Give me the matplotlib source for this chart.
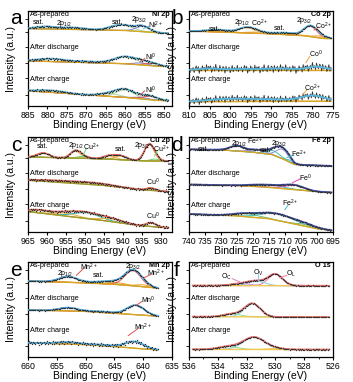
import numpy as np
import matplotlib
matplotlib.use("Agg")
import matplotlib.pyplot as plt

plt.rcParams['font.family'] = ['Liberation Sans', 'DejaVu Sans']
plt.rcParams['mathtext.default'] = 'regular'

# scatter of the raw counts around the fit (read roughly, relative units)
jitter = [0.4, -0.6, 0.9, -0.2, -0.8, 0.5, 0.1, -0.4, 0.7, -0.9, 0.3, 0.6,
          -0.5, -0.1, 0.8, -0.7, 0.2, -0.3, 1.0, -0.6, 0.4, -0.2, -0.9, 0.6,
          0.0, 0.5, -0.4, 0.9, -0.8, 0.3, -0.1, 0.7, -0.5, 0.2, -1.0, 0.6,
          -0.3, 0.8, 0.1, -0.7, 0.5, -0.2, 0.3, -0.6, 0.9, -0.4, 0.2]

stages = ["As-prepared", "After discharge", "After charge"]
stage_y = [0.96, 0.62, 0.28]

# background knots (eV, level) and peaks (centre eV, height, width eV, colour)
ni_bg = [[(885, 0.815), (860, 0.795), (853, 0.775), (849, 0.765)],
         [(885, 0.475), (860, 0.445), (852, 0.42), (849, 0.415)],
         [(885, 0.16), (860, 0.09), (852, 0.06), (849, 0.055)]]
ni_peaks = [[(880.5, 0.025, 2.5, '#a8d8a0'), (873.5, 0.02, 3, '#a8d8a0'),
             (861, 0.06, 2.8, '#9fd89a'), (855.5, 0.055, 1.8, '#7b7fe0')],
            [(879, 0.03, 3.5, '#a8d8a0'), (870, 0.012, 3, '#a8d8a0'),
             (860, 0.075, 3, '#9fd89a'), (856, 0.02, 1.8, '#7b7fe0'),
             (853, 0.025, 1.8, '#e05050')],
            [(879, 0.02, 3.5, '#a8d8a0'), (864, 0.03, 2.5, '#a8d8a0'),
             (860, 0.08, 2.3, '#9fd89a'), (856, 0.015, 2, '#7b7fe0'),
             (853.5, 0.035, 2, '#e05050')]]
ni_text = [("sat.", 882.2, 0.88), (r"2p$_{1/2}$", 875.8, 0.865), ("sat.", 862, 0.88),
           (r"2p$_{3/2}$", 856.4, 0.915), (r"Ni$^{2+}$", 852.3, 0.85),
           (r"Ni$^{0}$", 853.4, 0.51), (r"Ni$^{0}$", 853.4, 0.17)]
ni_lead = [(853.9, 0.84, 855.3, 0.815, '#5ab4dc'), (855.0, 0.50, 856.2, 0.465, '#e05050'),
           (855.0, 0.16, 856.2, 0.115, '#e05050')]

co_bg = [[(810, 0.79), (790, 0.76), (782, 0.74), (777, 0.71), (775, 0.71)],
         [(810, 0.375), (775, 0.375)],
         [(810, 0.045), (775, 0.05)]]
co_peaks = [[(803, 0.025, 2.5, '#f0c080'), (796, 0.055, 2, '#f0a040'),
             (793.5, 0.015, 2, '#f0c080'), (786.5, 0.02, 2.5, '#f0c080'),
             (780.5, 0.11, 1.6, '#e05050'), (778, 0.02, 1.5, '#f0a040')],
            [(805, 0.02, 3, '#f0c080'), (796, 0.015, 3, '#f0c080'),
             (788, 0.02, 3, '#f0c080'), (779, 0.04, 2.5, '#f0a040')],
            [(800, 0.03, 5, '#f0c080'), (790, 0.02, 4, '#f0c080'),
             (780, 0.06, 3, '#f0a040')]]
co_text = [("sat.", 803.7, 0.81), (r"2p$_{1/2}$", 797, 0.875), (r"Co$^{2+}$", 792.8, 0.865),
           ("sat.", 788.1, 0.82), (r"2p$_{3/2}$", 782, 0.895), (r"Co$^{2+}$", 777.2, 0.84),
           (r"Co$^{0}$", 779.3, 0.54), (r"Co$^{2+}$", 780, 0.19)]
co_lead = [(778.6, 0.83, 779.6, 0.80, '#e05050'), (780.6, 0.525, 781.6, 0.455, '#f0a040'),
           (781.3, 0.175, 782.3, 0.12, '#f0a040')]

cu_bg = [[(965, 0.79), (945, 0.77), (935, 0.75), (928, 0.745)],
         [(965, 0.545), (945, 0.49), (935, 0.445), (928, 0.425)],
         [(965, 0.215), (945, 0.12), (935, 0.065), (928, 0.045)]]
cu_peaks = [[(961, 0.045, 1.6, '#f0b040'), (952.5, 0.075, 1.3, '#f0b040'),
             (950.5, 0.02, 1.5, '#70d070'), (943.5, 0.035, 1.6, '#f0b040'),
             (940.5, 0.04, 1.6, '#f0b040'), (933, 0.17, 1.3, '#f0b040'),
             (931.5, 0.02, 1.2, '#70d070')],
            [(958, 0.015, 5, '#f0b040'), (948, 0.02, 5, '#f0b040'),
             (932.5, 0.025, 1.2, '#f0b040')],
            [(962, 0.03, 3, '#f0b040'), (955, 0.03, 3, '#f0b040'),
             (949.5, 0.06, 3.5, '#30b0b0'), (943, 0.03, 3, '#f0b040'),
             (932.5, 0.04, 1.3, '#f0b040')]]
cu_text = [("sat.", 961.3, 0.895), (r"2p$_{1/2}$", 952.4, 0.91), (r"Cu$^{2+}$", 948.2, 0.895),
           ("sat.", 940.5, 0.87), (r"2p$_{3/2}$", 934.8, 0.915), (r"Cu$^{2+}$", 929.6, 0.865),
           (r"Cu$^{0}$", 932, 0.52), (r"Cu$^{0}$", 932, 0.165)]
cu_lead = [(949.6, 0.88, 950.6, 0.80, '#70d070'), (930.9, 0.855, 931.6, 0.80, '#70d070')]

fe_bg = [[(740, 0.87), (730, 0.865), (720, 0.84), (714, 0.815), (710, 0.76),
          (707, 0.71), (700, 0.70), (695, 0.695)],
         [(740, 0.5), (725, 0.49), (715, 0.47), (705, 0.44), (700, 0.425), (695, 0.415)],
         [(740, 0.19), (725, 0.17), (715, 0.14), (705, 0.07), (700, 0.035), (695, 0.015)]]
fe_peaks = [[(725, 0.055, 2.2, '#8a90d8'), (718.5, 0.03, 2.5, '#8a90d8'),
             (713.5, 0.045, 2, '#40c0c0'), (710.8, 0.1, 1.8, '#8a90d8'),
             (708.5, 0.02, 1.2, '#40c0c0')],
            [(720, 0.01, 3, '#70c070'), (714, 0.025, 4, '#40c0c0'),
             (707, 0.045, 3, '#e040c0')],
            [(722, 0.03, 4, '#70c070'), (712, 0.07, 5, '#40c0c0'),
             (703, 0.02, 3, '#70c070')]]
fe_text = [("sat.", 735.6, 0.865), (r"2p$_{1/2}$", 724.3, 0.935), (r"Fe$^{2+}$", 719.4, 0.95),
           ("sat.", 716.2, 0.855), (r"2p$_{3/2}$", 711.8, 0.935), (r"Fe$^{2+}$", 705.5, 0.82),
           (r"Fe$^{0}$", 703.5, 0.57), (r"Fe$^{2+}$", 708.5, 0.30)]
fe_lead = [(707.2, 0.81, 709.4, 0.785, '#40c0c0'), (705.2, 0.56, 707.6, 0.52, '#e040c0'),
           (709.0, 0.285, 710.0, 0.235, '#40c0c0')]

mn_bg = [[(660, 0.80), (650, 0.78), (645, 0.765), (640, 0.74), (637.5, 0.725)],
         [(660, 0.495), (650, 0.48), (645, 0.46), (640, 0.44), (637.5, 0.43)],
         [(660, 0.15), (650, 0.13), (645, 0.11), (640, 0.085), (637.5, 0.075)]]
mn_peaks = [[(653, 0.06, 1.6, '#e05050'), (647, 0.02, 2, '#a0d890'),
             (644.5, 0.02, 1.5, '#f0a030'), (641.8, 0.16, 1.4, '#e05050'),
             (640, 0.02, 1.2, '#f0a030')],
            [(653, 0.035, 1.6, '#e05050'), (647, 0.01, 2, '#a0d890'),
             (641.3, 0.1, 1.5, '#e05050')],
            [(653, 0.02, 2, '#f0a030'), (647, 0.01, 2, '#a0d890'),
             (641.5, 0.07, 1.6, '#e05050')]]
mn_text = [(r"2p$_{1/2}$", 653.6, 0.88), (r"Mn$^{2+}$", 649.4, 0.945), ("sat.", 647.8, 0.86),
           (r"2p$_{3/2}$", 641.8, 0.95), (r"Mn$^{2+}$", 637.8, 0.88),
           (r"Mn$^{0}$", 639.2, 0.60), (r"Mn$^{2+}$", 640, 0.31)]
mn_lead = [(650.4, 0.93, 651.6, 0.86, '#e05050'), (638.8, 0.865, 639.8, 0.835, '#e05050'),
           (640.2, 0.585, 641.2, 0.545, '#e05050'), (641.0, 0.295, 642.6, 0.225, '#e05050')]

o_bg = [[(536, 0.752), (526, 0.75)],
        [(536, 0.425), (526, 0.42)],
        [(536, 0.08), (526, 0.078)]]
o_peaks = [[(530, 0.12, 0.5, '#f07a9a'), (531.3, 0.045, 0.6, '#86c8e8'),
            (532.4, 0.02, 0.7, '#c890e0')],
           [(531.6, 0.14, 0.55, '#86c8e8'), (533, 0.03, 0.6, '#90d890')],
           [(531.5, 0.13, 0.75, '#86c8e8'), (533.3, 0.03, 0.7, '#90d890'),
            (530, 0.01, 0.6, '#f0c850')]]
o_text = [(r"O$_C$", 533.4, 0.84), (r"O$_V$", 531.2, 0.89), (r"O$_L$", 528.9, 0.87)]
o_lead = [(533.0, 0.825, 532.4, 0.785, '#e080c0'), (531.2, 0.87, 531.2, 0.805, '#86c8e8'),
          (529.2, 0.86, 529.7, 0.835, '#f07a9a')]

panels = [
    dict(letter="a", name="Ni 2p", xlim=(885, 848), ticks=range(850, 886, 5), minor=None,
         span=(849, 885), step=0.3, bg=ni_bg, peaks=ni_peaks, text=ni_text, lead=ni_lead,
         env='#5ab4dc', bgc='#d9a520', noise=[0.006, 0.01, 0.01], rough=False),
    dict(letter="b", name="Co 2p", xlim=(810, 775), ticks=range(775, 811, 5), minor=None,
         span=(775.5, 810), step=0.25, bg=co_bg, peaks=co_peaks, text=co_text, lead=co_lead,
         env='#58b8e0', bgc='#d9a520', noise=[0.005, 0.045, 0.04], rough=True),
    dict(letter="c", name="Cu 2p", xlim=(965, 927), ticks=range(930, 966, 5), minor=None,
         span=(928, 965), step=0.3, bg=cu_bg, peaks=cu_peaks, text=cu_text, lead=cu_lead,
         env='#e06a5a', bgc='#9c9c30', noise=[0.004, 0.008, 0.012], rough=False),
    dict(letter="d", name="Fe 2p", xlim=(740, 695), ticks=range(695, 741, 5), minor=None,
         span=(695.5, 740), step=0.35, bg=fe_bg, peaks=fe_peaks, text=fe_text, lead=fe_lead,
         env='#3f4fb0', bgc='#d9a520', noise=[0.006, 0.005, 0.007], rough=False),
    dict(letter="e", name="Mn 2p", xlim=(660, 635), ticks=range(635, 661, 5), minor=None,
         span=(637.5, 660), step=0.2, bg=mn_bg, peaks=mn_peaks, text=mn_text, lead=mn_lead,
         env='#4aa8e0', bgc='#d9a520', noise=[0.004, 0.005, 0.018], rough=False),
    dict(letter="f", name="O 1s", xlim=(536, 526), ticks=range(526, 537, 2),
         minor=range(527, 537, 2),
         span=(526.3, 535.8), step=0.08, bg=o_bg, peaks=o_peaks, text=o_text, lead=o_lead,
         env='#e87070', bgc='#f0c850', noise=[0.003, 0.003, 0.003], rough=False),
]


def gauss(x, c, h, w):
    return h * np.exp(-0.5 * ((x - c) / w) ** 2)


fig = plt.figure(figsize=(3.53, 3.82), dpi=100)
W, H = 353, 382
cols = [28, 189]
rows = [(11, 106), (137, 232), (262, 357)]

for k, p in enumerate(panels):
    top, bot = rows[k // 2]
    x0 = cols[k % 2]
    ax = fig.add_axes([x0 / W, 1 - bot / H, 144 / W, (bot - top) / H])
    xs = np.arange(p['span'][0], p['span'][1], p['step'])
    for i in range(3):
        kx = [q[0] for q in p['bg'][i]][::-1]
        ky = [q[1] for q in p['bg'][i]][::-1]
        bg = np.interp(xs, kx, ky)
        env = bg.copy()
        for c, h, w, col in p['peaks'][i]:
            g = gauss(xs, c, h, w)
            env += g
            ax.plot(xs, bg + g, color=col, lw=0.7, zorder=2)
        ax.plot(xs, bg, color=p['bgc'], lw=1.0, zorder=2)
        noise = np.array([jitter[j % len(jitter)] for j in range(len(xs))]) * p['noise'][i]
        if p['rough'] and i > 0:
            ax.plot(xs, env + noise, color='#333333', lw=0.6, zorder=3)
            ax.plot(xs, env, color=p['env'], lw=1.3, zorder=4)
        else:
            ax.plot(xs, env, color=p['env'], lw=1.3, zorder=3)
            ax.plot(xs, env + noise, 'o', color='#333333', ms=1.0, mew=0, zorder=4)
        ax.text(0.012, stage_y[i], stages[i], transform=ax.transAxes,
                fontsize=5.2, va='center', ha='left', zorder=6)
    for s, tx, ty in p['text']:
        ax.text(tx, ty, s, fontsize=5, ha='center', va='center', zorder=6)
    for xa, ya, xb, yb, col in p['lead']:
        ax.plot([xa, xb], [ya, yb], color=col, lw=0.7, zorder=5)
    ax.text(0.985, 0.965, p['name'], transform=ax.transAxes, fontsize=5.2,
            fontweight='bold', ha='right', va='center', zorder=6)
    ax.set_xlim(*p['xlim'])
    ax.set_ylim(0, 1)
    ax.set_xticks(list(p['ticks']))
    if p['minor'] is not None:
        ax.set_xticks(list(p['minor']), minor=True)
        ax.tick_params(axis='x', which='minor', length=1.5, width=0.6)
    ax.set_yticks([0.12, 0.3, 0.45, 0.62, 0.78, 0.92])
    ax.set_yticklabels([])
    ax.tick_params(axis='x', labelsize=6.3, length=2.5, width=0.8, pad=1)
    ax.tick_params(axis='y', length=2, width=0.6)
    for sp in ax.spines.values():
        sp.set_linewidth(0.9)
    ax.set_xlabel("Binding Energy (eV)", fontsize=7.5, labelpad=0)
    ax.set_ylabel("Intensity (a.u.)", fontsize=7.5, labelpad=3)
    fig.text((x0 - 12) / W, 1 - (top + 8) / H, p['letter'], fontsize=15,
             ha='center', va='center')

fig.savefig("out.png", dpi=100)
